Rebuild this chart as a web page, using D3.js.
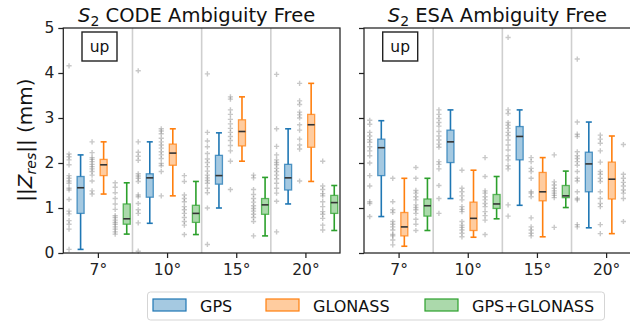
<!DOCTYPE html>
<html>
<head>
<meta charset="utf-8">
<script src="https://cdn.jsdelivr.net/npm/d3@7"></script>
<style>
  html, body { margin: 0; padding: 0; background: #fff; overflow: hidden; }
  svg { display: block; font-family: "DejaVu Sans", sans-serif; }
</style>
</head>
<body>
<svg id="chart" width="630" height="322"></svg>
<script>
// Elevation cut-off groups and the three constellations
const groups = ["7°", "10°", "15°", "20°"];
const systems = ["GPS", "GLONASS", "GPS+GLONASS"];
const colors = ["#1f77b4", "#ff7f0e", "#2ca02c"];
const yTicks = [0, 1, 2, 3, 4, 5];

// Box statistics per group: [lower whisker, Q1, median, Q3, upper whisker] (mm)
const codeGPS = [[0.08, 0.88, 1.45, 1.70, 2.18], [0.66, 1.24, 1.67, 1.76, 2.47], [1.00, 1.53, 1.72, 2.17, 2.67], [1.09, 1.40, 1.67, 1.97, 2.76]];
const codeGLO = [[1.31, 1.72, 1.96, 2.08, 2.47], [1.27, 1.95, 2.22, 2.42, 2.76], [2.04, 2.38, 2.70, 2.96, 3.47], [1.59, 2.35, 2.85, 3.08, 3.77]];
const codeGG  = [[0.42, 0.64, 0.76, 1.09, 1.56], [0.41, 0.68, 0.88, 1.06, 1.59], [0.38, 0.86, 1.07, 1.21, 1.68], [0.50, 0.88, 1.12, 1.28, 1.50]];
const esaGPS  = [[0.81, 1.72, 2.34, 2.53, 2.94], [1.21, 2.01, 2.47, 2.73, 3.18], [1.06, 2.07, 2.59, 2.81, 3.18], [0.56, 1.36, 1.98, 2.24, 2.91]];
const esaGLO  = [[0.15, 0.38, 0.58, 0.90, 1.66], [0.35, 0.50, 0.77, 1.13, 1.84], [0.36, 1.16, 1.36, 1.79, 2.12], [0.43, 1.20, 1.64, 2.02, 2.60]];
const esaGG   = [[0.50, 0.82, 1.05, 1.20, 1.66], [0.76, 0.99, 1.09, 1.30, 1.70], [1.01, 1.23, 1.27, 1.50, 1.82], [0.70, 1.25, 1.40, 1.57, 1.75]];

// Individual station values drawn beside each box (mm)
const codePtsGPS = [
  [4.16, 2.20, 2.14, 2.07, 1.96, 1.72, 1.66, 1.60, 1.55, 1.44, 1.40, 1.19, 0.93, 0.87, 0.72, 0.64, 0.53, 0.08],
  [4.05, 2.47, 2.24, 2.15, 2.06, 1.76, 1.71, 1.66, 1.59, 1.29, 1.25, 1.10, 0.96, 0.88, 0.67, 0.04],
  [3.98, 2.68, 2.49, 2.36, 2.21, 2.09, 2.01, 1.92, 1.82, 1.73, 1.67, 1.61, 1.55, 1.44, 1.34, 1.00, 0.19],
  [3.97, 2.76, 2.37, 2.18, 2.07, 2.01, 1.96, 1.88, 1.81, 1.73, 1.65, 1.55, 1.44, 1.33, 1.15, 0.47]];
const codePtsGLO = [
  [2.47, 2.23, 2.12, 2.08, 2.03, 1.97, 1.92, 1.87, 1.81, 1.73, 1.60, 1.38, 1.31],
  [2.76, 2.71, 2.65, 2.55, 2.47, 2.40, 2.33, 2.25, 2.18, 2.10, 1.99, 1.94, 1.81, 1.27],
  [3.47, 3.42, 3.18, 3.08, 2.97, 2.87, 2.77, 2.68, 2.59, 2.50, 2.39, 2.27, 2.04, 1.41],
  [3.77, 3.38, 3.30, 3.13, 3.07, 3.00, 2.85, 2.73, 2.53, 2.40, 2.31, 1.60]];
const codePtsGG = [
  [1.56, 1.46, 1.34, 1.21, 1.09, 0.97, 0.83, 0.79, 0.73, 0.68, 0.64, 0.58, 0.53, 0.47, 0.42],
  [1.72, 1.59, 1.29, 1.21, 1.14, 1.03, 0.96, 0.88, 0.79, 0.70, 0.62, 0.41],
  [1.73, 1.67, 1.41, 1.30, 1.21, 1.13, 1.05, 0.99, 0.93, 0.86, 0.79, 0.70, 0.38],
  [2.04, 1.49, 1.41, 1.32, 1.27, 1.14, 1.03, 0.92, 0.86, 0.77, 0.62, 0.51]];
const esaPtsGPS = [
  [2.95, 2.86, 2.68, 2.60, 2.52, 2.46, 2.36, 2.27, 2.16, 2.00, 1.72, 1.49, 1.14, 1.10, 0.81],
  [3.18, 3.08, 2.99, 2.90, 2.82, 2.70, 2.60, 2.51, 2.42, 2.35, 2.03, 1.97, 1.87, 1.50, 1.21, 0.88],
  [4.79, 3.18, 3.10, 2.90, 2.84, 2.77, 2.68, 2.61, 2.51, 2.40, 2.29, 2.16, 2.07, 1.94, 1.87, 1.07, 0.82],
  [4.31, 2.91, 2.64, 2.59, 2.25, 2.16, 2.10, 2.03, 1.95, 1.81, 1.66, 1.60, 1.36, 1.21, 1.18, 0.63, 0.58]];
const esaPtsGLO = [
  [1.66, 1.14, 0.96, 0.90, 0.70, 0.64, 0.58, 0.51, 0.41, 0.38, 0.29, 0.18],
  [1.84, 1.44, 1.36, 1.27, 1.18, 1.03, 0.97, 0.92, 0.70, 0.62, 0.57, 0.51, 0.44, 0.36],
  [2.12, 2.03, 1.88, 1.81, 1.66, 1.36, 1.33, 1.25, 0.78, 0.58, 0.51, 0.44, 0.38],
  [2.62, 2.53, 2.44, 2.27, 2.02, 1.81, 1.75, 1.66, 1.59, 1.36, 1.21, 1.10, 1.03, 0.63, 0.43]];
const esaPtsGG = [
  [1.90, 1.66, 1.39, 1.33, 1.25, 1.18, 1.07, 1.01, 0.96, 0.88, 0.75, 0.64, 0.50],
  [2.12, 1.70, 1.38, 1.33, 1.25, 1.18, 1.10, 1.03, 0.92, 0.83, 0.73, 0.41],
  [2.18, 1.58, 1.51, 1.44, 1.38, 1.33, 1.28, 1.23, 0.57],
  [2.41, 1.75, 1.66, 1.57, 1.49, 1.40, 1.33, 1.21, 0.70]];

const panels = [
  { name: "CODE", left: 63.3, boxes: [codeGPS, codeGLO, codeGG], pts: [codePtsGPS, codePtsGLO, codePtsGG], yLabels: true },
  { name: "ESA",  left: 364,  boxes: [esaGPS, esaGLO, esaGG],   pts: [esaPtsGPS, esaPtsGLO, esaPtsGG],   yLabels: false }
];

const panelW = 276.7, plotTop = 28, plotBottom = 253;
const boxOffset = [-0.25, 0.083, 0.417];   // box position inside a group (group units)
const ptsShift = -0.167;                     // points sit to the left of their box
const boxW = 7, capW = 6;

const svg = d3.select("#chart");
const y = d3.scaleLinear().domain([0, 5]).range([plotBottom, plotTop]);

panels.forEach(p => {
  const x = d3.scaleLinear().domain([0.5, 4.5]).range([p.left, p.left + panelW]);
  const g = svg.append("g");

  // separators between elevation groups
  g.selectAll("line.sep").data([1.5, 2.5, 3.5]).join("line")
    .attr("x1", d => x(d)).attr("x2", d => x(d))
    .attr("y1", plotTop).attr("y2", plotBottom)
    .attr("stroke", "#cfcfcf").attr("stroke-width", 1.6);

  // individual values as "+" markers
  p.pts.forEach((sysPts, s) => {
    sysPts.forEach((vals, gi) => {
      const cx = x(gi + 1 + boxOffset[s] + ptsShift);
      g.selectAll(null).data(vals).join("path")
        .attr("d", d => `M${cx - 2.6},${y(d)}H${cx + 2.6}M${cx},${y(d) - 2.6}V${y(d) + 2.6}`)
        .attr("stroke", "#6f6f6f").attr("stroke-opacity", 0.38).attr("stroke-width", 1.4)
        .attr("fill", "none");
    });
  });

  // box plots
  p.boxes.forEach((sysBoxes, s) => {
    const c = colors[s];
    sysBoxes.forEach((b, gi) => {
      const cx = x(gi + 1 + boxOffset[s]);
      const [lo, q1, med, q3, hi] = b;
      const bg = g.append("g");
      bg.append("line").attr("x1", cx).attr("x2", cx).attr("y1", y(q3)).attr("y2", y(hi))
        .attr("stroke", c).attr("stroke-width", 1.6);
      bg.append("line").attr("x1", cx).attr("x2", cx).attr("y1", y(q1)).attr("y2", y(lo))
        .attr("stroke", c).attr("stroke-width", 1.6);
      [lo, hi].forEach(v => bg.append("line")
        .attr("x1", cx - capW / 2).attr("x2", cx + capW / 2).attr("y1", y(v)).attr("y2", y(v))
        .attr("stroke", c).attr("stroke-width", 1.6));
      bg.append("rect").attr("x", cx - boxW / 2).attr("width", boxW)
        .attr("y", y(q3)).attr("height", y(q1) - y(q3))
        .attr("fill", c).attr("fill-opacity", 0.4)
        .attr("stroke", c).attr("stroke-opacity", 0.75).attr("stroke-width", 1.3);
      bg.append("line").attr("x1", cx - boxW / 2).attr("x2", cx + boxW / 2)
        .attr("y1", y(med)).attr("y2", y(med))
        .attr("stroke", "#333").attr("stroke-width", 1.6);
    });
  });

  // frame
  g.append("rect").attr("x", p.left).attr("y", plotTop).attr("width", panelW).attr("height", plotBottom - plotTop)
    .attr("fill", "none").attr("stroke", "#222").attr("stroke-width", 1.25);

  // axes
  const xAxis = d3.axisBottom(x).tickValues([1, 2, 3, 4]).tickFormat((d, i) => groups[i])
    .tickSize(5).tickPadding(6);
  const gx = g.append("g").attr("transform", `translate(0,${plotBottom})`).call(xAxis);
  const yAxis = d3.axisLeft(y).tickValues(yTicks).tickSize(5).tickPadding(4)
    .tickFormat(p.yLabels ? d3.format("d") : () => "");
  const gy = g.append("g").attr("transform", `translate(${p.left},0)`).call(yAxis);
  [gx, gy].forEach(a => {
    a.select(".domain").remove();
    a.selectAll(".tick line").attr("stroke", "#222").attr("stroke-width", 1.25);
    a.selectAll(".tick text").attr("fill", "#222").style("font-size", "15.5px")
      .style("font-family", "DejaVu Sans");
  });

  // "up" component tag
  const ux = p.left + 18.7;
  g.append("rect").attr("x", ux).attr("y", 32).attr("width", 35).attr("height", 29)
    .attr("fill", "#fff").attr("stroke", "#222").attr("stroke-width", 1.4);
  g.append("text").attr("x", ux + 17.5).attr("y", 51.5).attr("text-anchor", "middle")
    .style("font-size", "15.5px").attr("fill", "#111").text("up");

  // panel title
  const t = g.append("text").attr("x", p.left + panelW / 2 - 5).attr("y", 22)
    .attr("text-anchor", "middle").style("font-size", "19.5px").attr("fill", "#111");
  t.append("tspan").style("font-style", "italic").text("S");
  t.append("tspan").attr("dy", 4).style("font-size", "14px").text("2");
  t.append("tspan").attr("dy", -4).text(" " + p.name + " Ambiguity Free");
});

// y axis title
const yl = svg.append("text").attr("transform", "translate(32,140) rotate(-90)")
  .attr("text-anchor", "middle").style("font-size", "20px").attr("fill", "#111");
yl.append("tspan").text("||");
yl.append("tspan").style("font-style", "italic").text("Z");
yl.append("tspan").attr("dy", 4).style("font-size", "14px").style("font-style", "italic").text("res");
yl.append("tspan").attr("dy", -4).text("|| (mm)");

// legend
const lg = svg.append("g");
lg.append("rect").attr("x", 147.5).attr("y", 292).attr("width", 457).attr("height", 28).attr("rx", 3)
  .attr("fill", "#fff").attr("stroke", "#d5d5d5").attr("stroke-width", 1);
const legX = [153, 266, 425];
systems.forEach((s, i) => {
  lg.append("rect").attr("x", legX[i]).attr("y", 299).attr("width", 33).attr("height", 12)
    .attr("fill", colors[i]).attr("fill-opacity", 0.4).attr("stroke", colors[i]).attr("stroke-width", 1.2);
  lg.append("text").attr("x", legX[i] + 47).attr("y", 311.5).style("font-size", "16px")
    .attr("fill", "#111").text(s);
});
</script>
</body>
</html>
